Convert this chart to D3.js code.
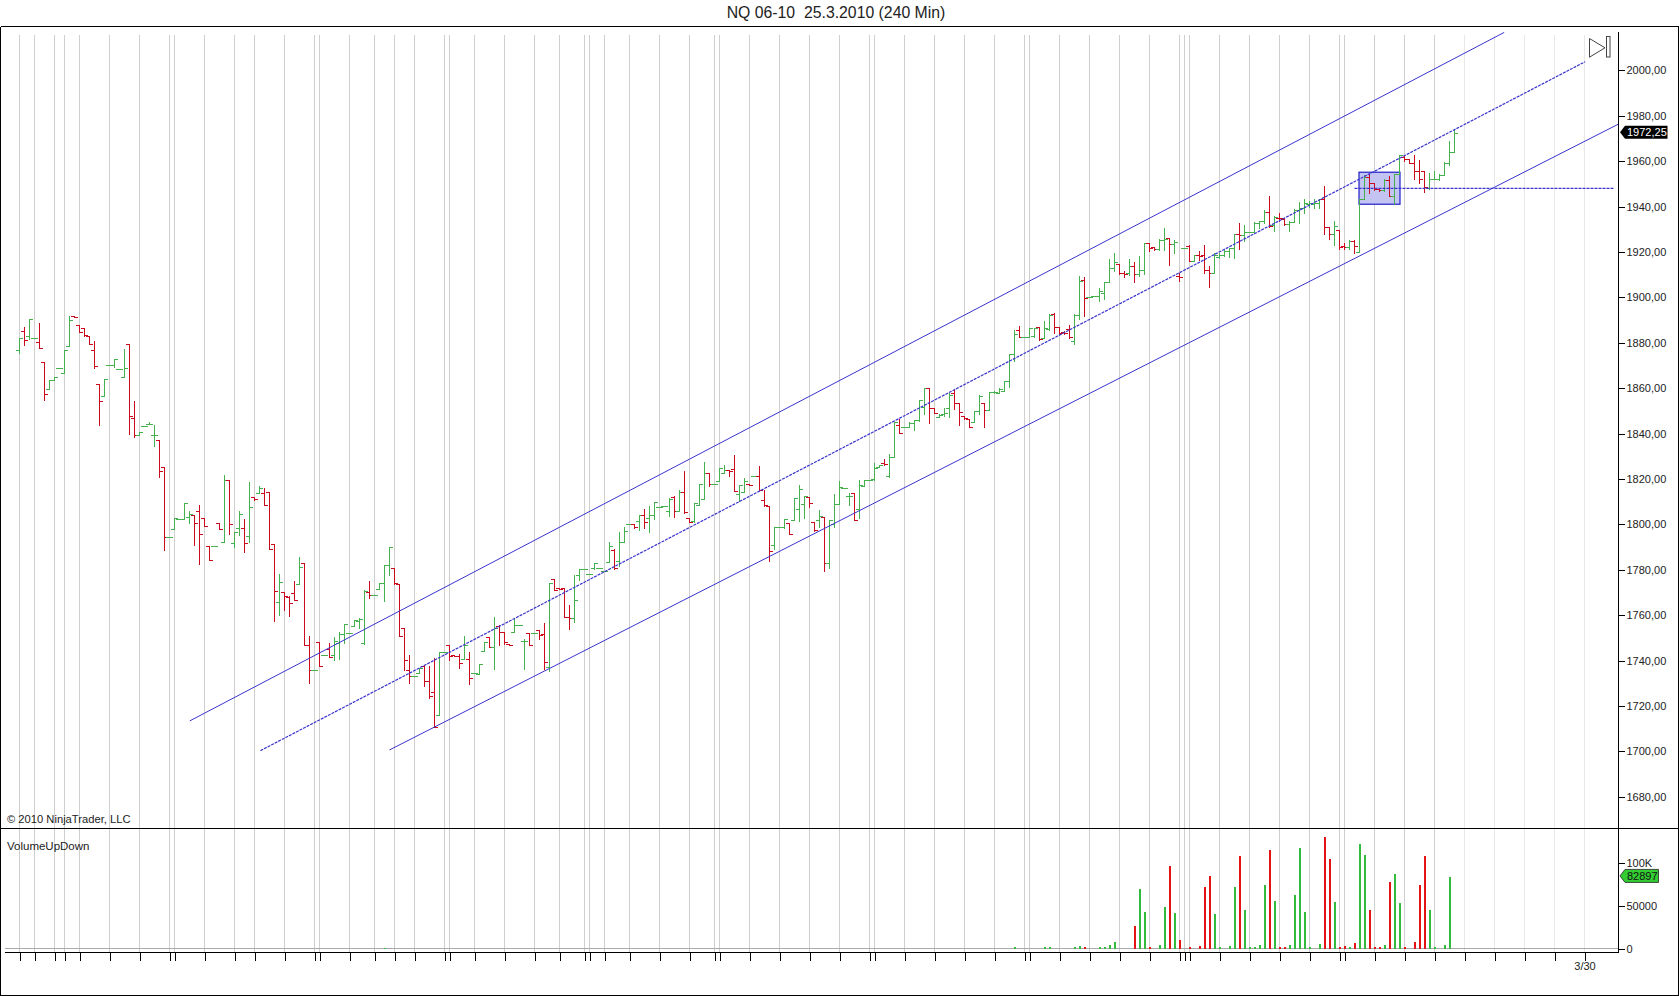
<!DOCTYPE html>
<html><head><meta charset="utf-8">
<script src="https://cdn.jsdelivr.net/npm/d3@7"></script>
<style>
html,body{margin:0;padding:0;background:#fff}
svg{display:block}
text{font-family:"Liberation Sans",Arial,sans-serif}
</style></head><body>
<svg id="c" width="1680" height="996"></svg>
<script>
const titleText = "NQ 06-10  25.3.2010 (240 Min)";
const barOpen = [
1876.6,1885,1882.6,1881.9,1880.1,1871.3,1859.4,1863.4,1868.7,1866.5,
1878.4,1891.6,1887.6,1886.3,1882.8,1876.6,1861.6,1856.4,1870,1870,
1868.2,1864.7,1879.3,1846.8,1839.2,1843.1,1844,1839.2,1837,1825.1,
1794.2,1797.8,1802.3,1802.3,1803,1803.9,1805.8,1802.6,1790.3,1790.3,
1800.4,1792,1819.3,1791.6,1798.2,1798.2,1794.7,1811.9,1813.6,1813.6,
1814.1,1791.2,1765.6,1770,1767.8,1769.6,1773.3,1782.8,1746.7,1735.7,
1748,1742.3,1744.9,1742.3,1747.6,1751.5,1752,1755,1757.2,1747.4,
1770,1768.7,1771.3,1774,1781.9,1780.6,1773.5,1754.2,1735.7,1733,
1734.3,1737.4,1730.8,1726,1715.7,1743.6,1746.7,1742,1741.8,1740.5,
1740.5,1734.3,1733.9,1743.9,1750.2,1745.8,1755,1752.4,1747,1752.4,
1755.5,1748.4,1752,1752,1753.3,1751.5,1737,1775.8,1771.5,1771.8,
1759,1758.6,1777.5,1780.2,1778,1780.6,1780.6,1779.3,1783.2,1788.5,
1783.7,1792,1800.1,1800.1,1801.3,1803.7,1802.6,1803.9,1807.6,1808,
1805.5,1811.8,1805.5,1814.1,1802.7,1801.3,1808.4,1811,1822.5,1817.6,
1819,1822.5,1823.8,1824.2,1813.2,1814.1,1817.4,1821.2,1821.2,1810.6,
1807.9,1790.8,1798.7,1798.7,1800.5,1801.8,1806.6,1808.8,1811.9,1800.9,
1801.8,1803.1,1782.8,1800,1808.8,1815.9,1812.3,1813.7,1806.6,1816.8,
1819.4,1819.8,1825.1,1826.9,1821.2,1829.5,1843.6,1842.7,1842.7,1844.5,
1845.8,1851.6,1859.9,1851.1,1847.1,1848.5,1851.1,1857.7,1853.3,1847.6,
1846,1845,1849.8,1853,1850.2,1858.2,1857.7,1858.6,1863,1875,
1885.5,1882.3,1882.3,1882.6,1886.7,1881.9,1885.6,1892.6,1886.7,1884.4,
1885.9,1880.6,1892.1,1907.2,1900,1900.3,1900.3,1901.8,1906.6,1912.8,
1914.6,1910.6,1910.6,1913.7,1910.2,1911.9,1923.8,1921.9,1921,1925.1,
1926,1923.4,1909,1921.6,1922.5,1915.9,1918.5,1918.5,1911.9,1910.6,
1917.6,1918.5,1920.3,1921.6,1927.8,1927.3,1928.7,1928.7,1932.6,1933.5,
1937.5,1931.6,1934.8,1934.1,1931.9,1933,1938.2,1939.2,1941.1,1940.7,
1941.4,1942.9,1930.9,1927.8,1929.5,1922.3,1922.1,1924.7,1919.9,1943.2,
1952.9,1950.2,1947.6,1947,1951.6,1944.5,1953.9,1961.8,1960.5,1959,
1955.2,1955.2,1948,1951.7,1952,1953.8,1959,1964];
const barHigh = [
1881.9,1886.7,1890.3,1881.9,1888.5,1871.3,1863.4,1864.7,1868.7,1876.6,
1891.6,1891.6,1887.6,1886.3,1882.8,1880.6,1861.6,1863.8,1870,1872.6,
1868.2,1877,1879.3,1854.1,1840.5,1843.1,1844.9,1843.6,1837,1825.1,
1794.2,1802.6,1802.3,1809.2,1805.8,1803.9,1808.3,1802.6,1790.3,1790.3,
1800.4,1821.5,1819.3,1796.4,1805.7,1802.2,1818.5,1811.9,1816.7,1815.8,
1814.1,1791.2,1777.9,1770,1768.1,1774.9,1785.4,1782.8,1750.6,1735.7,
1748,1742.3,1747.6,1750,1752.4,1755.9,1752,1757.7,1758.6,1770.9,
1774.9,1768.7,1774,1781.9,1790,1780.6,1773.5,1754.2,1742.3,1733,
1736.5,1737.9,1737.3,1740.9,1743.6,1743.6,1746.7,1742,1742.7,1750.6,
1743.6,1734.3,1738.3,1748,1750.2,1759,1755.5,1752.4,1747,1758.6,
1755.5,1749.3,1752,1752,1753.3,1756.4,1774,1775.8,1771.5,1771.8,
1764.3,1777.5,1780.2,1780.2,1778,1782.8,1780.6,1779.3,1792,1789,
1796.5,1798.7,1800.1,1800.1,1803.7,1806.7,1808,1809.4,1807.6,1808,
1811.4,1812.1,1815.1,1823.1,1802.7,1809.3,1817.6,1827.3,1822.5,1817.6,
1824.7,1826,1823.8,1830.4,1817.2,1820.3,1817.4,1821.2,1825.6,1815,
1807.9,1798.7,1798.7,1802.2,1800.5,1811.5,1817.2,1812.3,1811.9,1800.9,
1806.2,1803.1,1801.8,1813.2,1819,1815.9,1813.7,1813.7,1819.4,1819.4,
1819.4,1826.9,1826,1828.6,1830.8,1844.8,1846.3,1842.7,1845,1845.8,
1854.6,1859.9,1859.9,1851.1,1848.5,1851.1,1857.7,1859,1853.3,1847.6,
1846.3,1849.8,1856.8,1853.3,1858.2,1858.6,1859.9,1863,1875,1885.3,
1887.3,1882.3,1886.3,1886.3,1886.7,1889.2,1892.6,1892.9,1886.7,1885,
1887.4,1892.5,1909.3,1908.8,1900,1900.3,1904,1906.6,1916.8,1919.4,
1914.6,1911.5,1916.8,1915.4,1918.1,1923.8,1923.8,1922,1925.6,1930.4,
1926,1925.1,1910.6,1921.6,1922.9,1918.5,1920.3,1922.9,1913.7,1919.4,
1919.4,1920.7,1921.6,1927.8,1932.6,1931.7,1928.7,1933,1933.5,1938.3,
1944.2,1935.5,1937,1934.8,1933.3,1938.5,1941.9,1943.3,1942.2,1942.9,
1943.2,1948.8,1930.9,1933.5,1929.5,1923.8,1925.1,1925.1,1943.2,1953.5,
1953.9,1950.2,1948,1952,1953.3,1953.9,1962.3,1962,1960.5,1962.3,
1960.4,1955.2,1954.7,1955.2,1953.9,1959.3,1968.7,1974];
const barLow = [
1875.3,1878.7,1881.6,1881.9,1877.5,1854.4,1859.4,1863.4,1868.7,1866.5,
1878.4,1891.2,1884.5,1882.9,1879.3,1868.7,1843.4,1856.4,1870,1869.1,
1868.2,1864.7,1839.5,1838.3,1839.2,1843.1,1844,1834.3,1820.5,1788.5,
1794.2,1797.8,1802.3,1802.3,1800.4,1790.7,1782.3,1799.1,1784.1,1790.3,
1797.8,1792,1795.6,1789.8,1795.1,1787.6,1792,1810.5,1813.6,1808.3,
1789,1757.1,1759.7,1762.1,1759.3,1766.5,1773.3,1746.7,1729.8,1735.7,
1737.3,1742.3,1741.4,1739.9,1740.4,1747.6,1752,1755,1754.2,1747.1,
1767.4,1768.7,1771.3,1766,1777.5,1773.5,1750.6,1735.7,1729.9,1733,
1734.3,1728.6,1723.3,1710.4,1715.7,1743.6,1740.2,1741.8,1736.5,1740.5,
1729.5,1734.3,1733.9,1743.9,1745.8,1736.1,1746.7,1747.1,1746.7,1752.4,
1755.5,1736.1,1746.7,1752,1749.3,1736.1,1735.2,1770.9,1771.3,1759,
1753.7,1756.8,1775.3,1780.2,1778,1780.2,1780.6,1779.3,1783.2,1780.2,
1781.5,1792,1800.1,1798.2,1797.3,1798.2,1796.5,1802.2,1807.6,1808,
1803.3,1803,1805.5,1804.9,1800.9,1800.9,1808.4,1811,1816.8,1817.6,
1819,1822.5,1821.2,1814.5,1810.1,1814.1,1817.2,1821.2,1815,1807.9,
1783.7,1789,1798.7,1798.2,1795.6,1801.8,1801.3,1802.7,1807.5,1796.9,
1798.7,1779.2,1780.6,1798.7,1808.8,1815.9,1808.4,1801.8,1802.7,1816.8,
1819.4,1819.4,1825.1,1826,1820.7,1829.5,1840.1,1842.7,1842.7,1841.4,
1845.4,1848.5,1844.5,1848.9,1847.1,1847.6,1847.1,1850.7,1843.6,1846.3,
1842.7,1845,1848.5,1842.7,1850.2,1857.7,1857.7,1858.6,1860.4,1871.5,
1882.3,1882.3,1882.3,1882.3,1880.9,1881.9,1885.3,1884.1,1883.8,1883.5,
1882,1879.3,1890.3,1891.7,1900,1900.3,1898.3,1899.1,1906.6,1911.5,
1910.2,1908.8,1909.7,1906.6,1909.3,1910.2,1920.3,1920.7,1920.7,1920.7,
1914.1,1919.4,1907.1,1921.6,1915.9,1915.9,1916.3,1910.6,1904.4,1910.3,
1917.2,1918.1,1917.6,1917.2,1921.2,1924.7,1928.7,1928.7,1930.4,1932.3,
1930.9,1928.9,1933.3,1931.6,1928.9,1933,1932.6,1937,1939.7,1939.2,
1939.2,1927.5,1925.3,1922.9,1921.2,1921.2,1921.2,1919.4,1919.9,1942.9,
1945.8,1947,1946.6,1946.4,1944.4,1941,1953.9,1959.8,1958.8,1952,
1950.2,1946.3,1947.3,1951.7,1951.4,1953.5,1958.2,1963.9];
const barClose = [
1881.9,1881,1890.3,1881.9,1877.5,1857.2,1863.4,1864.7,1868.7,1876.6,
1889.8,1891.2,1884.5,1883.2,1879.3,1869.4,1854.1,1863.8,1870,1872.6,
1868.2,1868.7,1847.5,1839.2,1840.5,1843.1,1844,1839.2,1823.3,1794.2,
1794.2,1802.6,1802.3,1809.2,1804.5,1800.4,1795.6,1799.1,1784.1,1790.3,
1797.8,1819.3,1800,1796.4,1804.4,1791.6,1807.5,1811,1815.8,1808.3,
1789,1770.5,1774.4,1768.1,1765.2,1766.5,1781,1746.7,1735.7,1735.7,
1737.3,1742.3,1741.4,1748.4,1751.5,1755.9,1752,1757.7,1758.1,1770.5,
1768.7,1768.7,1774,1781.9,1790,1774,1750.6,1740.1,1733,1733,
1736.5,1730.8,1724,1710.4,1743.6,1743.6,1741.8,1741.8,1738.7,1746.7,
1732.1,1734.3,1738.3,1748,1745.8,1754.2,1752.4,1748,1746.7,1755.5,
1755.5,1748.4,1746.7,1752,1751.1,1739.2,1774,1770.9,1771.3,1759,
1758.6,1766.5,1780.2,1780.2,1778,1782.8,1780.6,1779.3,1790.3,1780.6,
1792,1796.9,1800.1,1798.7,1803.7,1800.9,1803.9,1809.4,1807.6,1808,
1811,1805.5,1814,1805.3,1800.9,1809.3,1817.6,1822.5,1817.6,1817.6,
1824.7,1823.8,1823.4,1814.5,1817.2,1819,1817.2,1821.2,1815,1808.4,
1788.1,1798.7,1798.7,1802.2,1795.6,1811.5,1815.4,1812.3,1809.3,1797.4,
1803.5,1782.8,1801.8,1808.8,1816.3,1815.9,1812.3,1801.8,1817.2,1819.4,
1819.4,1824.7,1826,1826.3,1829.5,1844.8,1840.1,1842.7,1844.5,1845.8,
1854.6,1859.9,1851.1,1848.9,1848,1848.9,1856.8,1853.3,1849.4,1846.6,
1842.7,1849.8,1856.4,1850.2,1858.2,1858.2,1859.5,1863,1875,1883.4,
1882.3,1882.3,1886.3,1886.3,1881.6,1886.3,1892.2,1886.7,1884.1,1883.9,
1882.4,1892.1,1906.9,1899.6,1900,1900.3,1902.7,1906.6,1912.8,1915.4,
1910.6,1910.2,1913.7,1910.2,1911.9,1923.8,1921.6,1921,1925.1,1925.6,
1923.4,1924.3,1908.8,1921.6,1915.9,1918.5,1918.1,1911.9,1910.6,1918.5,
1918.5,1920.3,1921.6,1927.8,1927.3,1928.7,1928.7,1932.6,1933.5,1937.5,
1931.3,1935.3,1934.5,1931.9,1933,1938.2,1939.2,1941.4,1941.4,1941.4,
1943.2,1930.8,1927.8,1931.3,1922.1,1922.1,1924.7,1922.5,1943.2,1952.9,
1950.2,1947.6,1947,1951.6,1944.5,1953.9,1962.3,1960.5,1959,1955.2,
1952,1948.5,1951.7,1952,1953.8,1959,1964,1972.25];

const volIndex = [73,199,205,206,211,212,213,216,217,218,219,223,224,225,226,228,229,230,231,232,234,236,237,238,239,240,242,243,244,245,246,247,248,249,250,251,252,253,254,255,256,257,258,260,261,262,263,264,265,266,267,268,269,270,271,272,273,274,275,276,277,279,280,281,282,283,285,286];
const volValue = [1200,1500,1500,1500,1800,3000,1550,1500,1550,4300,7400,26360,69380,42640,1550,4300,48450,96120,41470,10080,1900,3100,71700,84500,40310,1550,3100,71700,107750,44960,1550,1550,4300,74030,114730,55430,1550,1550,4300,62400,117050,42640,1550,5400,129850,104260,54260,1550,3100,1550,6600,121700,108900,44960,1550,1550,4300,77520,86820,53100,1550,7750,74030,107750,44960,1550,4300,82897];

const gridIdx = [0,3,7,9,12,18,24,30,31,37,43,47,53,59,60,66,71,75,79,85,86,91,97,103,108,113,114,117,122,128,134,139,140,146,152,158,164,170,171,177,183,189,195,201,202,208,214,220,226,232,233,234,240,246,252,258,264,265,271,277,283,289,295,301,307,313];
const lastSolidGrid = 283;
const priceTicks = [1680,1700,1720,1740,1760,1780,1800,1820,1840,1860,1880,1900,1920,1940,1960,1980,2000];
const volTicks = [0,50000,100000];
const channelUpper = [[34.06,1713.4],[296.94,2016.7]];
const channelMid = [[48.2,1700.3],[313.14,2003.8]];
const channelLower = [[74,1700.6],[319.7,1976.2]];
const levelLine = [[267,1948],[319,1948]];
const boxCorners = [268,1955.1,276,1941];
const lastPrice = 1972.25;
const lastVolume = 82897;

const svg = d3.select("#c");
const x = d3.scaleLinear().domain([0,1]).range([19.5,24.5]);
const y = d3.scaleLinear().domain([1680,2000]).range([796.7,70.3]);
const yv = d3.scaleLinear().domain([0,100000]).range([948.7,862.7]);
const snap = v => Math.round(v-0.5)+0.5;
const GREEN="#45b04e", RED="#cc0a1e", BLUE="#3a34cf";

// grid lines
svg.append("g").selectAll("line").data(gridIdx).join("line")
  .attr("x1",d=>x(d)).attr("x2",d=>x(d)).attr("y1",35).attr("y2",952)
  .attr("stroke",d=>d<=lastSolidGrid?"#cfcfcf":"#e8e8e8").attr("stroke-width",1);

// frame
const frame = svg.append("g").attr("stroke","#000").attr("stroke-width",1).attr("shape-rendering","crispEdges");
[[0.5,26.5,1678.5,26.5],[0.5,26.5,0.5,995.5],[1678.5,26.5,1678.5,995.5],[0.5,995.5,1678.5,995.5],[0.5,828.5,1678.5,828.5],[1618.5,32,1618.5,952],[5,952.5,1618.5,952.5]]
 .forEach(s=>frame.append("line").attr("x1",s[0]).attr("y1",s[1]).attr("x2",s[2]).attr("y2",s[3]));

// zero line
svg.append("line").attr("x1",5).attr("x2",1618).attr("y1",snap(yv(0))).attr("y2",snap(yv(0))).attr("stroke","#aaaaaa").attr("stroke-width",1);

// selection box
svg.append("rect").attr("x",x(boxCorners[0])-0.5).attr("y",y(boxCorners[1]))
  .attr("width",x(boxCorners[2])-x(boxCorners[0])+1).attr("height",y(boxCorners[3])-y(boxCorners[1]))
  .attr("fill","#c4c4f2").attr("stroke","#1f1fc8").attr("stroke-width",1.2);

// OHLC bars
const bars = barOpen.map((o,i)=>({i,o,h:barHigh[i],l:barLow[i],c:barClose[i]}));
svg.append("g").attr("shape-rendering","crispEdges").selectAll("path").data(bars).join("path")
  .attr("fill","none").attr("stroke-width",1)
  .attr("stroke",d=>d.c>=d.o?GREEN:RED)
  .attr("d",d=>{
    const X=x(d.i);
    return `M${X},${snap(y(d.h))-0.5}V${snap(y(d.l))+0.5}M${X-3.5},${snap(y(d.o))}H${X}M${X},${snap(y(d.c))}H${X+3.5}`;
  });

// channel lines
const ln = d3.line().x(d=>x(d[0])).y(d=>y(d[1]));
[[channelUpper,null],[channelLower,null],[channelMid,"3,1"],[levelLine,"3,1"]].forEach(([p,dash])=>{
  svg.append("path").attr("d",ln(p)).attr("fill","none").attr("stroke",BLUE).attr("stroke-width",dash?1.2:1)
    .attr("stroke-dasharray",dash);
});

// volume bars
const vols = volIndex.map((k,n)=>({k,v:volValue[n],up:barClose[k]>=barOpen[k]}));
svg.append("g").attr("shape-rendering","crispEdges").selectAll("rect").data(vols).join("rect")
  .attr("x",d=>x(d.k)-1).attr("width",2)
  .attr("y",d=>yv(d.v)).attr("height",d=>yv(0)-yv(d.v))
  .attr("fill",d=>d.up?"#33bb3d":"#e51414");

// axes
const fmt = d=>d.toFixed(2).replace(".",",");
const axP = svg.append("g").attr("transform","translate(1618.5,0)")
  .call(d3.axisRight(y).tickValues(priceTicks).tickSize(6).tickPadding(2).tickFormat(fmt));
const axV = svg.append("g").attr("transform","translate(1618.5,0)")
  .call(d3.axisRight(yv).tickValues(volTicks).tickSize(6).tickPadding(2).tickFormat(d=>d===100000?"100K":String(d)));
const axX = svg.append("g").attr("transform","translate(0,952.5)")
  .call(d3.axisBottom(x).tickValues(gridIdx).tickSize(8).tickPadding(2).tickFormat(d=>d===313?"3/30":""));
[axP,axV,axX].forEach(a=>{
  a.select(".domain").remove();
  a.selectAll("text").attr("font-family",'"Liberation Sans",Arial,sans-serif').attr("font-size",11).attr("fill","#222");
  a.selectAll("line").attr("stroke","#000").attr("shape-rendering","crispEdges");
});

// titles
svg.append("text").attr("x",836).attr("y",18).attr("text-anchor","middle").attr("font-size",15.8).attr("fill","#222").attr("xml:space","preserve").style("white-space","pre").text(titleText);
svg.append("text").attr("x",7).attr("y",823).attr("font-size",11.2).attr("fill","#222").text("© 2010 NinjaTrader, LLC");
svg.append("text").attr("x",7).attr("y",850).attr("font-size",11.5).attr("fill","#222").text("VolumeUpDown");

// last price tag
const ly = y(lastPrice)-1;
svg.append("path").attr("fill","#000").attr("d",`M1620,${ly}L1625,${ly-6.5}H1667.5V${ly+6.5}H1625Z`);
svg.append("text").attr("x",1627).attr("y",ly+4).attr("font-size",11).attr("fill","#fff").text(fmt(lastPrice));

// last volume tag
const lv = yv(lastVolume)-1.5;
svg.append("path").attr("fill","#33cc33").attr("stroke","#222").attr("stroke-width",0.8).attr("d",`M1620,${lv}L1625,${lv-6.5}H1658.5V${lv+6.5}H1625Z`);
svg.append("text").attr("x",1627).attr("y",lv+4).attr("font-size",11).attr("fill","#111").text(String(lastVolume));

// go-to-end icon
svg.append("path").attr("fill","#fff").attr("stroke","#444").attr("stroke-width",1).attr("d","M1589.5,38.5L1605,47.8L1589.5,57.2Z");
svg.append("rect").attr("x",1606.5).attr("y",36.5).attr("width",3.5).attr("height",20.5).attr("fill","#fff").attr("stroke","#444").attr("stroke-width",1);
</script>
</body></html>
